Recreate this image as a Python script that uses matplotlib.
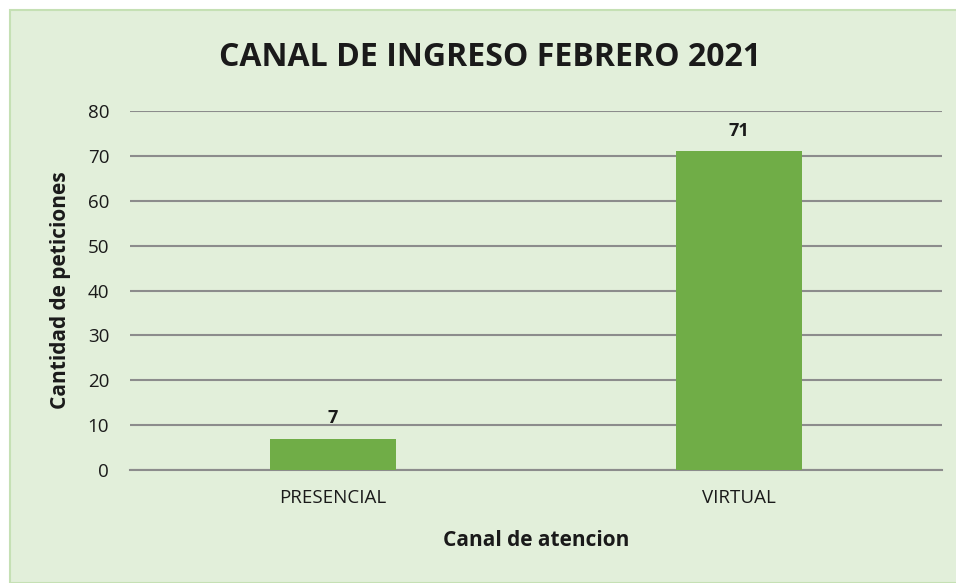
import matplotlib

matplotlib.use("Agg", force=True)

import matplotlib.pyplot as plt
from matplotlib.patches import Rectangle

categories = ["PRESENCIAL", "VIRTUAL"]
values = [7, 71]
yticks = [0, 10, 20, 30, 40, 50, 60, 70, 80]

BG = "#E2EFDA"
BAR = "#70AD47"
GRID = "#8C8C8C"
INK = "#1A1A1A"

plt.rcParams["font.family"] = ["Open Sans", "DejaVu Sans"]

fig = plt.figure(figsize=(9.56, 5.83), dpi=100, facecolor="white")
W, H = 956, 583
fig.patches.append(Rectangle((10 / W, 0), 1, 1 - 10 / H, transform=fig.transFigure,
                             facecolor=BG, edgecolor="#C5E0B4", linewidth=1.5, zorder=-5))

ax = fig.add_axes([130 / W, (H - 470) / H, (942 - 130) / W, (470 - 111) / H])
ax.set_facecolor("none")

x = range(len(categories))
bars = ax.bar(x, values, width=0.31, color=BAR, zorder=3)
for b, v in zip(bars, values):
    ax.annotate(str(v), (b.get_x() + b.get_width() / 2, v), xytext=(0, 8),
                textcoords="offset points", ha="center", va="bottom",
                fontsize=13, fontweight="bold", color=INK)

ax.set_xlim(-0.5, 1.5)
ax.set_ylim(0, 80)
ax.set_yticks(yticks)
ax.set_xticks(list(x))
ax.set_xticklabels(categories)
ax.grid(axis="y", color=GRID, linewidth=1.5, zorder=0)
ax.set_axisbelow(True)
for s in ["top", "right", "left"]:
    ax.spines[s].set_visible(False)
ax.spines["bottom"].set_color(GRID)
ax.spines["bottom"].set_linewidth(1.5)
ax.tick_params(axis="both", length=0, labelsize=13.5, colors="#404040", labelcolor=INK)
ax.tick_params(axis="y", pad=15)
ax.tick_params(axis="x", pad=14)

ax.set_ylabel("Cantidad de peticiones", fontsize=15, fontweight="bold", color=INK, labelpad=12)
ax.set_xlabel("Canal de atencion", fontsize=15, fontweight="bold", color=INK, labelpad=16)

fig.text(490 / W, 1 - 57 / H, "CANAL DE INGRESO FEBRERO 2021", ha="center", va="center",
         fontsize=23, fontweight="bold", color=INK)

fig.savefig("out.png", dpi=100, facecolor="white")
